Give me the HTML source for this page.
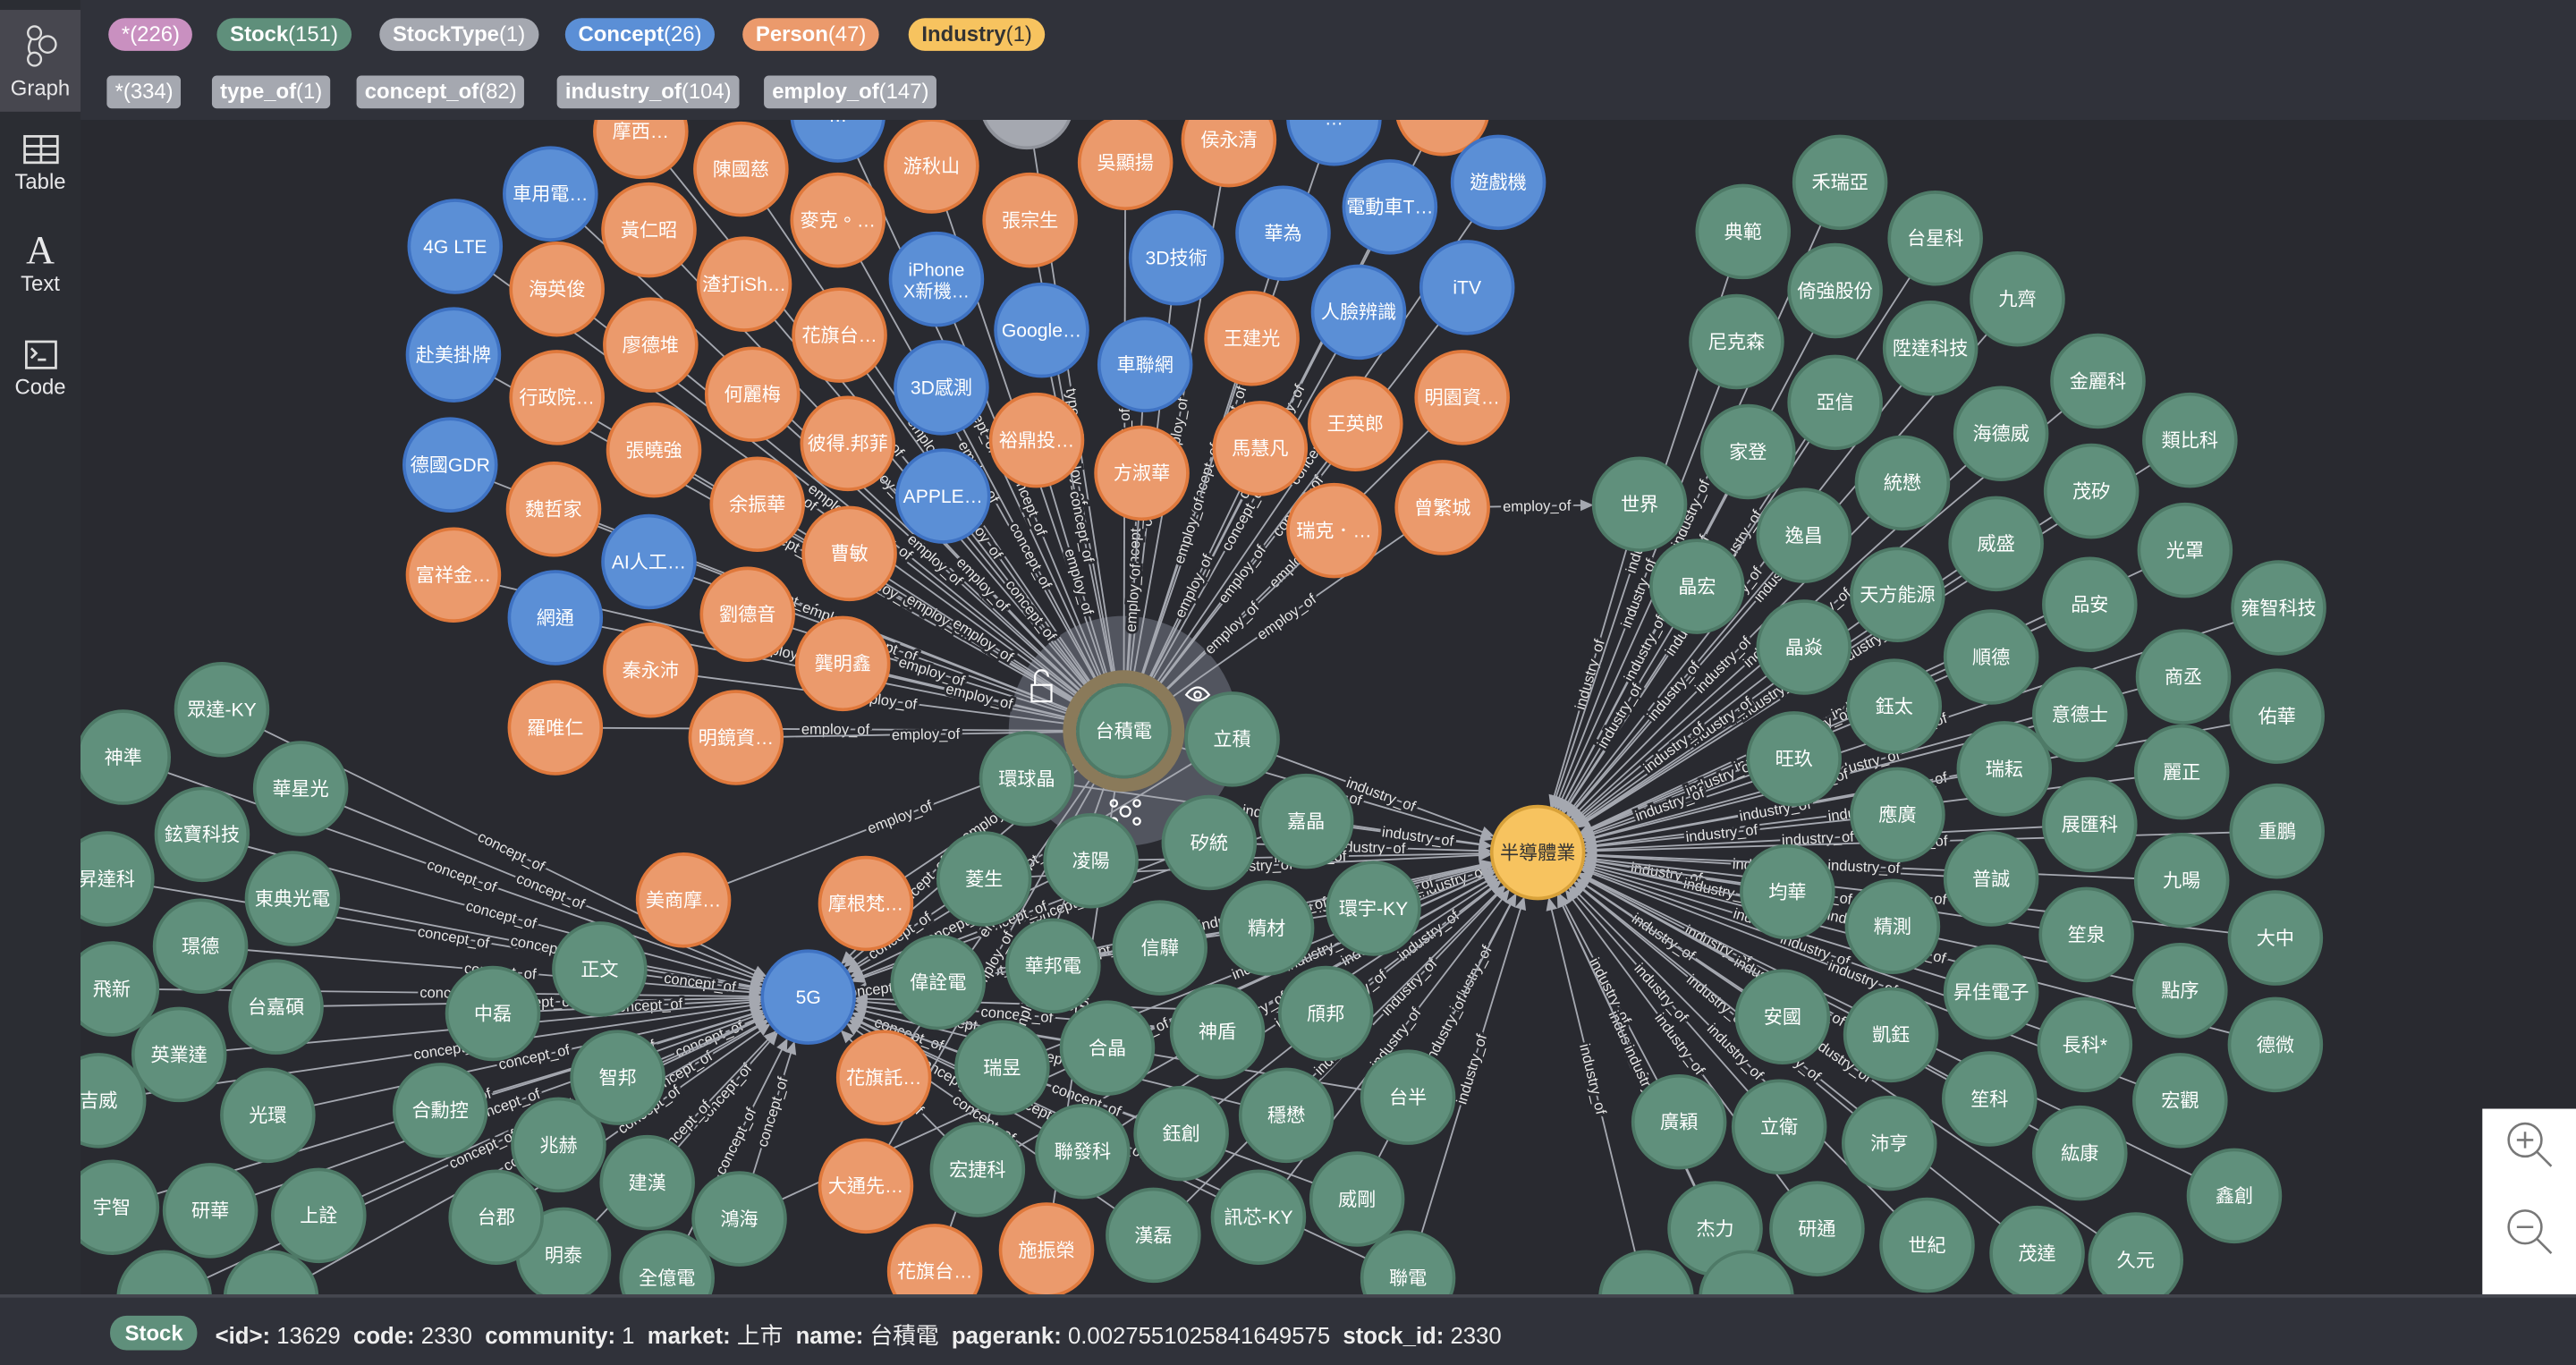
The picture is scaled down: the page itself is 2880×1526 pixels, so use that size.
<!DOCTYPE html>
<html><head><meta charset="utf-8">
<style>
html,body{margin:0;padding:0;width:2880px;height:1526px;overflow:hidden;background:#2a2b31;}
#root{position:absolute;left:0;top:0;width:1568px;height:831px;transform:scale(1.83673,1.83634);transform-origin:0 0;font-family:"Liberation Sans","Noto Sans CJK TC",sans-serif;color:#fff;background:#2a2b31;}
#side{position:absolute;left:0;top:0;width:49px;height:831px;background:#2b2d33;}
.sitem{position:absolute;left:0;width:49px;text-align:center;font-size:13px;color:#e8e8ea;}
#head{position:absolute;left:49px;top:0;width:1519px;height:73px;background:#30323a;}
.pill{position:absolute;height:20px;line-height:20px;border-radius:10px;font-size:13px;padding:0 8px;top:11px;}
.rel{position:absolute;height:20px;line-height:20px;border-radius:3px;font-size:13px;padding:0 5px;top:46px;background:#a5a8b0;color:#fff;}
b{font-weight:bold}
#graph{position:absolute;left:49px;top:73px;width:1519px;height:715px;overflow:hidden;background:#292a30;}
#foot{position:absolute;left:0;top:788px;width:1568px;height:43px;background:#30323a;border-top:2px solid #45474f;box-sizing:border-box;}
#zoombox{position:absolute;left:1511px;top:675px;width:57px;height:113px;background:#fff;}
</style></head><body>
<div id="root">
  <div id="side">
    <div class="sitem" style="top:6px;height:62px;background:#47474f">
      <svg width="22" height="28" viewBox="0 0 22 28" style="margin-top:9px"><g fill="none" stroke="#ddd" stroke-width="1.3"><circle cx="7" cy="5" r="4"/><circle cx="15" cy="12" r="5"/><circle cx="7" cy="21" r="4"/><path d="M5 9 Q2 15 5 18"/></g></svg>
      <div style="margin-top:0px">Graph</div></div>
    <div class="sitem" style="top:82px">
      <svg width="22" height="18" viewBox="0 0 22 18"><g fill="none" stroke="#ddd" stroke-width="1.5"><rect x="1" y="1" width="20" height="16"/><path d="M1 7H21M1 12H21M11 1V17"/></g></svg>
      <div>Table</div></div>
    <div class="sitem" style="top:141px">
      <div style="font-family:'Liberation Serif',serif;font-size:24px;line-height:24px">A</div><div>Text</div></div>
    <div class="sitem" style="top:207px">
      <svg width="20" height="18" viewBox="0 0 20 18"><g fill="none" stroke="#ddd" stroke-width="1.5"><rect x="1" y="1" width="18" height="16"/><path d="M4 5L7 8L4 11M8 12H13"/></g></svg>
      <div>Code</div></div>
  </div>
  <div id="head">
    <span class="pill" style="left:17px;background:#c990c0">*(226)</span>
    <span class="pill" style="left:83px;background:#5f8f7b"><b>Stock</b>(151)</span>
    <span class="pill" style="left:182px;background:#a5a8b0"><b>StockType</b>(1)</span>
    <span class="pill" style="left:295px;background:#5b8fd6"><b>Concept</b>(26)</span>
    <span class="pill" style="left:403px;background:#eb9a6c"><b>Person</b>(47)</span>
    <span class="pill" style="left:504px;background:#f7c35f;color:#333"><b>Industry</b>(1)</span>
    <span class="rel" style="left:16px">*(334)</span>
    <span class="rel" style="left:80px"><b>type_of</b>(1)</span>
    <span class="rel" style="left:168px"><b>concept_of</b>(82)</span>
    <span class="rel" style="left:290px"><b>industry_of</b>(104)</span>
    <span class="rel" style="left:416px"><b>employ_of</b>(147)</span>
  </div>
  <div id="graph">
    <svg id="gsvg" width="1519" height="715" viewBox="49 73 1519 715" xmlns="http://www.w3.org/2000/svg"></svg>
  </div>
  <div id="zoombox">
    <svg width="57" height="113" viewBox="0 0 57 113" xmlns="http://www.w3.org/2000/svg">
      <g fill="none" stroke="#777" stroke-width="1.4"><circle cx="26" cy="19" r="10"/><path d="M33 26L42 35M21 19H31M26 14V24"/></g>
      <g fill="none" stroke="#777" stroke-width="1.4"><circle cx="26" cy="72" r="10"/><path d="M33 79L42 88M21 72H31"/></g>
    </svg>
  </div>
  <div id="foot">
    <span style="position:absolute;left:67px;top:11px;height:21px;line-height:21px;padding:0 9px;border-radius:10px;background:#5f8f7b;font-size:13px;font-weight:bold">Stock</span>
    <span style="position:absolute;left:131px;top:13px;font-size:14px;white-space:nowrap;color:#eee"><b>&lt;id&gt;:</b> 13629 &nbsp;<b>code:</b> 2330 &nbsp;<b>community:</b> 1 &nbsp;<b>market:</b> 上市 &nbsp;<b>name:</b> 台積電 &nbsp;<b>pagerank:</b> 0.0027551025841649575 &nbsp;<b>stock_id:</b> 2330</span>
  </div>
</div>
<script>
// node data: name|type|x|y  (s=Stock,c=Concept,p=Person,i=Industry,t=StockType)
const nodeNames=["摩西…","…","","…","…","車用電…","陳國慈","游秋山","吳顯揚","侯永清","遊戲機","黃仁昭","麥克。…","張宗生","電動車T…","華為","4G LTE","海英俊","渣打iSh…","iPhone X新機…","3D技術","iTV","人臉辨識","Google…","廖德堆","花旗台…","赴美掛牌","行政院…","何麗梅","3D感測","車聯網","王建光","明園資…","張曉強","彼得.邦菲","裕鼎投…","王英郎","馬慧凡","方淑華","德國GDR","魏哲家","余振華","APPLE…","曾繁城","瑞克．…","富祥金…","AI人工…","曹敏","網通","劉德音","秦永沛","龔明鑫","羅唯仁","明鏡資…",
"台積電","立積","環球晶","半導體業","世界",
"嘉晶","矽統","凌陽","菱生","摩根梵…","美商摩…","環宇-KY","精材","信驊","華邦電","偉詮電","5G","頎邦","神盾","合晶","瑞昱","花旗託…","台半","穩懋","鈺創","聯發科","宏捷科","大通先…","威剛","訊芯-KY","漢磊","施振榮","花旗台…","聯電","鴻海","建漢","兆赫","智邦","合勳控","明泰","台郡","全億電",
"眾達-KY","神準","華星光","鉉寶科技","昇達科","東典光電","正文","璟德","飛新","台嘉碩","中磊","英業達","吉威","光環","宇智","研華","上詮","","",
"禾瑞亞","典範","台星科","九齊","倚強股份","尼克森","陞達科技","金麗科","亞信","家登","海德威","類比科","統懋","茂矽","逸昌","威盛","光罩","晶宏","天方能源","品安","雍智科技","晶焱","順德","商丞","鈺太","意德士","佑華","旺玖","瑞耘","麗正","應廣","展匯科","重鵬","均華","普誠","九暘","精測","笙泉","大中","昇佳電子","點序","安國","凱鈺","長科*","德微","廣穎","立衛","沛亨","笙科","宏觀","紘康","鑫創","杰力","研通","世紀","茂達","久元","",""];
const nodeTypes=["p","c","t","p","c","c","p","p","p","p","c","p","p","p","c","c","c","p","p","c","c","c","c","c","p","p","c","p","p","c","c","p","p","p","p","p","p","p","p","c","p","p","c","p","p","p","c","p","c","p","p","p","p","p",
"s","s","s","i","s",
"s","s","s","s","p","p","s","s","s","s","s","c","s","s","s","s","p","s","s","s","s","s","p","s","s","s","p","p","s","s","s","s","s","s","s","s","s",
"s","s","s","s","s","s","s","s","s","s","s","s","s","s","s","s","s","s","s",
"s","s","s","s","s","s","s","s","s","s","s","s","s","s","s","s","s","s","s","s","s","s","s","s","s","s","s","s","s","s","s","s","s","s","s","s","s","s","s","s","s","s","s","s","s","s","s","s","s","s","s","s","s","s","s","s","s","s","s"];
const nodeX=[390,510,625,878,812,335,451,567,685,748,912,395,510,627,846,781,277,339,453,570,716,893,827,634,396,511,276,339,458,573,697,762,890,398,516,631,825,767,695,274,337,461,574,878,812,276,395,517,338,455,396,513,338,448,
684,750,625,936,998,
795,736,664,599,527,416,836,771,706,641,571,492,807,741,674,610,538,857,783,719,659,595,527,826,766,702,637,569,857,450,394,340,376,268,343,302,406,
135,75,183,123,65,178,365,122,68,168,300,109,60,163,68,128,194,100,165,
1120,1061,1178,1228,1117,1057,1175,1277,1117,1064,1218,1333,1158,1273,1098,1215,1330,1033,1155,1272,1387,1098,1212,1329,1153,1266,1386,1092,1220,1328,1155,1272,1386,1088,1212,1328,1152,1270,1385,1212,1327,1085,1151,1269,1385,1022,1083,1150,1211,1327,1266,1360,1044,1106,1173,1240,1300,1002,1063];
const nodeY=[80,70,62,66,72,118,103,101,99,85,111,140,134,134,126,142,150,176,173,170,157,175,190,201,210,204,216,242,240,236,222,206,242,274,270,268,258,273,288,283,310,307,302,309,323,350,342,337,376,374,408,404,443,449,
445,450,474,519,307,
500,513,524,535,550,548,553,565,577,588,598,607,617,628,638,650,656,668,679,690,701,712,722,730,741,752,761,774,778,742,720,697,656,676,764,741,778,
432,461,480,508,535,547,590,576,602,613,617,642,670,679,735,737,740,790,790,
111,141,145,182,177,208,212,232,245,275,264,268,294,299,326,331,335,357,362,368,370,394,400,412,430,435,436,462,468,470,496,502,506,543,535,536,564,569,571,604,603,619,630,636,636,683,686,696,669,670,702,728,748,748,758,763,767,790,790];

const NS="http://www.w3.org/2000/svg";
const svg=document.getElementById('gsvg');
const fills={s:"#60907c",c:"#5b8fd6",p:"#eb9a6c",i:"#f7c35f",t:"#a5a8b0"};
const strokes={s:"#4e7a67",c:"#3f73c4",p:"#e0793c",i:"#d9a23a",t:"#8f929a"};
const R=28;
function idx(n){return nodeNames.indexOf(n);}
const TSMC=idx("台積電"), IND=idx("半導體業"), G5=idx("5G"), WORLD=idx("世界");
// build links by role
const links=[];
for(let i=0;i<nodeNames.length;i++){
  const t=nodeTypes[i],x=nodeX[i],y=nodeY[i];
  if(i===TSMC||i===IND||i===G5) continue;
  if(t==="p"){links.push([i,TSMC,"employ_of"]);}
  else if(t==="c"||t==="t"){links.push([i,TSMC,t==="t"?"type_of":"concept_of"]);}
  else if(t==="s"){
    if(x>960) links.push([i,IND,"industry_of"]);
    else if(x<420&&y>400) links.push([i,G5,"concept_of"]);
    else {links.push([i,IND,"industry_of"]);links.push([i,G5,"concept_of"]);}
  }
}
links.push([TSMC,IND,"industry_of"]);links.push([TSMC,G5,"concept_of"]);
links.push([idx("曾繁城"),WORLD,"employ_of"]);
function mk(tag,attrs,parent){const e=document.createElementNS(NS,tag);for(const k in attrs)e.setAttribute(k,attrs[k]);(parent||svg).appendChild(e);return e;}
const gl=mk('g',{});


// selection halo
const halo=mk('circle',{cx:nodeX[TSMC],cy:nodeY[TSMC],r:70,fill:"#52555f"},gl);


links.forEach(([a,b,lab])=>{
  const x1=nodeX[a],y1=nodeY[a],x2=nodeX[b],y2=nodeY[b];
  const dx=x2-x1,dy=y2-y1,L=Math.hypot(dx,dy),ux=dx/L,uy=dy/L;
  const sx=x1+ux*R,sy=y1+uy*R,ex=x2-ux*(R+5),ey=y2-uy*(R+5);
  const ln=mk('line',{x1:sx,y1:sy,x2:ex,y2:ey,stroke:"#a5a8b0","stroke-width":1},gl);
  
  
  const px=-uy,py=ux;
  const ar=mk('polygon',{points:`${ex+ux*5},${ey+uy*5} ${ex-ux*3+px*3.5},${ey-uy*3+py*3.5} ${ex-ux*3-px*3.5},${ey-uy*3-py*3.5}`,fill:"#a5a8b0"},gl);
  
  
  let ang=Math.atan2(dy,dx)*180/Math.PI; if(ang>90)ang-=180; if(ang<-90)ang+=180;
  const mx=(sx+ex)/2,my=(sy+ey)/2;
  const tx=mk('text',{x:mx,y:my+3,"text-anchor":"middle","font-size":9,fill:"#e6e6e6",stroke:"#292a30","stroke-width":3,"paint-order":"stroke",transform:`rotate(${ang} ${mx} ${my})`,"font-family":"Liberation Sans, sans-serif"},gl);
  
  
  tx.textContent=lab;
});
// selected ring
const ring=mk('circle',{cx:nodeX[TSMC],cy:nodeY[TSMC],r:R+5,fill:"none",stroke:"#8a7a5a","stroke-width":8});


const gi=mk('g',{fill:"none",stroke:"#fff","stroke-width":1.2});


mk('rect',{x:628,y:417,width:12,height:10},gi);mk('path',{d:"M630 417V412A4 4 0 0 1 638 412"},gi);
mk('path',{d:"M722 423Q729 414 736 423Q729 430 722 423Z"},gi);mk('circle',{cx:729,cy:423,r:2},gi);
mk('circle',{cx:685,cy:494,r:3},gi);mk('circle',{cx:678,cy:489,r:2},gi);mk('circle',{cx:692,cy:489,r:2},gi);mk('circle',{cx:678,cy:500,r:2},gi);mk('circle',{cx:692,cy:500,r:2},gi);
// nodes
for(let i=0;i<nodeNames.length;i++){
  const t=nodeTypes[i];
  const g=mk('g',{});
  
  
  mk('circle',{cx:nodeX[i],cy:nodeY[i],r:R,fill:fills[t],stroke:strokes[t],"stroke-width":2},g);
  const name=nodeNames[i];
  if(!name) continue;
  const col=t==="i"?"#333":"#fff";
  if(name==="iPhone X新機…"){
    const a=mk('text',{x:nodeX[i],y:nodeY[i]-2,"text-anchor":"middle","font-size":11,fill:col},g);a.textContent="iPhone";
    const b=mk('text',{x:nodeX[i],y:nodeY[i]+11,"text-anchor":"middle","font-size":11,fill:col},g);b.textContent="X新機…";
  } else {
    const tx=mk('text',{x:nodeX[i],y:nodeY[i]+4,"text-anchor":"middle","font-size":11.5,fill:col,"font-family":"Liberation Sans, Noto Sans CJK TC, sans-serif"},g);
    tx.textContent=name;
  }
}
</script>
</body></html>
